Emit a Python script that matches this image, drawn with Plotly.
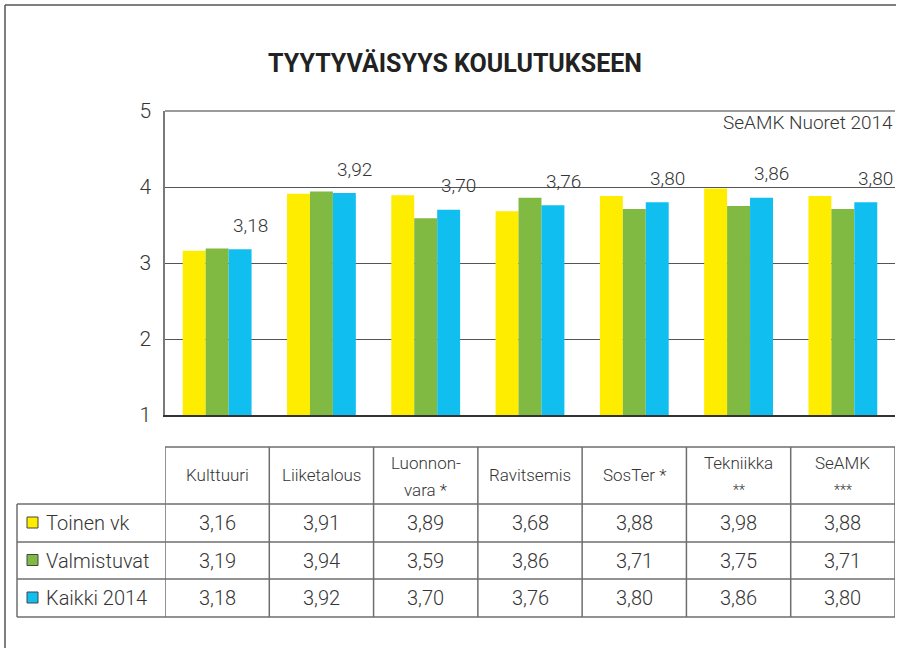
import plotly.graph_objects as go

# ---------------- data ----------------
categories = ["Kulttuuri", "Liiketalous", "Luonnonvara *", "Ravitsemis",
              "SosTer *", "Tekniikka **", "SeAMK ***"]
header_line1 = ["Kulttuuri", "Liiketalous", "Luonnon-", "Ravitsemis",
                "SosTer *", "Tekniikka", "SeAMK"]
header_line2 = ["", "", "vara *", "", "", "**", "***"]
series_names = ["Toinen vk", "Valmistuvat", "Kaikki 2014"]
toinen_vk = [3.16, 3.91, 3.89, 3.68, 3.88, 3.98, 3.88]
valmistuvat = [3.19, 3.94, 3.59, 3.86, 3.71, 3.75, 3.71]
kaikki_2014 = [3.18, 3.92, 3.70, 3.76, 3.80, 3.86, 3.80]
y_ticks = [1, 2, 3, 4, 5]
title_text = "TYYTYVÄISYYS KOULUTUKSEEN"
source_text = "SeAMK Nuoret 2014"

series_values = [toinen_vk, valmistuvat, kaikki_2014]
colors = ["#FFED00", "#80BA42", "#10BFEF"]

W, H = 900, 648
L, R, T, B = 165, 895, 111, 415   # plot area in pixels


def px(x):
    return (x - L) / (R - L)


def py(y):
    return (B - y) / (B - T)


def fmt(v):
    return f"{v:.2f}".replace(".", ",")


FONT = "Roboto"
TXT = "#353535"


def f(size, color=TXT):
    return dict(family=FONT, size=size, color=color, weight=300)


fig = go.Figure()
for name, vals, col in zip(series_names, series_values, colors):
    fig.add_trace(go.Bar(x=categories, y=[v - 1 for v in vals], base=1,
                         name=name, marker=dict(color=col, line=dict(width=0)),
                         hoverinfo="skip"))

shapes = []
annotations = []


def ann(**kw):
    kw.setdefault("showarrow", False)
    kw.setdefault("xanchor", "center")
    kw.setdefault("yanchor", "middle")
    annotations.append(kw)


# value labels above the groups (overall value)
for cat, v in zip(categories, kaikki_2014):
    ann(x=cat, y=v, xref="x", yref="y", text=fmt(v), xshift=33, yshift=24, font=f(19))

# top border of plot
shapes.append(dict(type="line", xref="paper", yref="paper", x0=0, x1=1,
                   y0=1, y1=1, line=dict(color="#7a7a7a", width=1.5)))
# outer frame (top and left)
shapes.append(dict(type="line", xref="paper", yref="paper", x0=px(5), x1=px(896),
                   y0=py(5), y1=py(5), line=dict(color="#555", width=1.5)))
shapes.append(dict(type="line", xref="paper", yref="paper", x0=px(5), x1=px(5),
                   y0=py(5), y1=py(650), line=dict(color="#555", width=1.5)))

# ---------------- table ----------------
tab_top, hdr_bot = 447, 504
row_bounds = [504, 542, 579, 617]
grid = dict(color="#6e6e6e", width=1.5)
n = len(categories)
for i in range(n + 1):
    shapes.append(dict(type="line", xref="x", yref="paper", x0=i - 0.5, x1=i - 0.5,
                       y0=py(tab_top), y1=py(row_bounds[-1]), line=grid))
shapes.append(dict(type="line", xref="paper", yref="paper", x0=px(17), x1=px(17),
                   y0=py(hdr_bot), y1=py(row_bounds[-1]), line=grid))
shapes.append(dict(type="line", xref="x", yref="paper", x0=-0.5, x1=n - 0.5,
                   y0=py(tab_top), y1=py(tab_top), line=grid))
for yb in row_bounds:
    shapes.append(dict(type="line", xref="paper", yref="paper", x0=px(17), x1=1,
                       y0=py(yb), y1=py(yb), line=grid))

# header texts
hdr_mid = (tab_top + hdr_bot) / 2
for cat, l1, l2 in zip(categories, header_line1, header_line2):
    if l2:
        ann(x=cat, y=py(463), xref="x", yref="paper", text=l1, font=f(17))
        ann(x=cat, y=py(490), xref="x", yref="paper", text=l2,
            font=f(14 if l2.startswith("*") else 17))
    else:
        ann(x=cat, y=py(hdr_mid), xref="x", yref="paper", text=l1, font=f(17))

# data rows
for r, (name, vals, col) in enumerate(zip(series_names, series_values, colors)):
    mid = (row_bounds[r] + row_bounds[r + 1]) / 2
    shapes.append(dict(type="rect", xref="paper", yref="paper",
                       x0=px(27), x1=px(38), y0=py(mid - 6), y1=py(mid + 5),
                       fillcolor=col, line=dict(color="#444", width=1)))
    ann(x=px(44), y=py(mid), xref="paper", yref="paper", text=name,
        xanchor="left", font=f(20))
    for cat, v in zip(categories, vals):
        ann(x=cat, y=py(mid), xref="x", yref="paper", text=fmt(v), font=f(20))

# source text
ann(x=1, y=py(122), xref="paper", yref="paper", text=source_text,
    xanchor="right", font=f(19))

fig.update_layout(
    width=W, height=H,
    margin=dict(l=L, r=W - R, t=T, b=H - B, pad=0),
    paper_bgcolor="white", plot_bgcolor="white",
    showlegend=False,
    barmode="group", bargap=0.34, bargroupgap=0,
    title=dict(text=f"<b>{title_text}</b>", x=455 / W, xanchor="center",
               y=1 - 63 / H, yanchor="middle", xref="container", yref="container",
               font=dict(family=FONT, size=25, color="#222")),
    xaxis=dict(range=[-0.5, n - 0.5], showticklabels=False, ticks="",
               showline=True, linecolor="#333", linewidth=1.5, showgrid=False,
               zeroline=False, fixedrange=True),
    yaxis=dict(range=[1, 5], tickvals=y_ticks, ticktext=[str(t) for t in y_ticks],
               showline=True, linecolor="#7a7a7a", linewidth=1.5,
               showgrid=True, gridcolor="#555", gridwidth=1.2, zeroline=False,
               ticks="", ticklabelstandoff=8,
               tickfont=f(21), fixedrange=True),
    shapes=shapes, annotations=annotations,
)

fig.write_html("out.html", config={"displayModeBar": False},
               post_script="document.body.style.margin='0';document.body.style.overflow='hidden';")
